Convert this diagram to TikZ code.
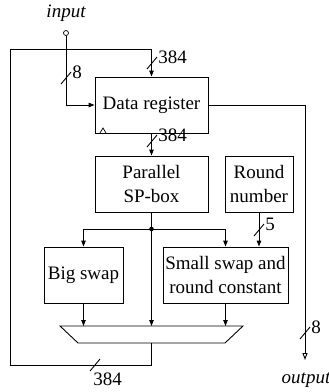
\documentclass[tikz,border=0pt]{standalone}
\usepackage{fontspec}
\setmainfont{Liberation Serif}
\newfontfamily\timesfont{Liberation Serif}
\usetikzlibrary{arrows.meta,calc}

% bus width mark: short slash across a line, with its width beside it
\def\busmark(#1)[#2]#3{%
  \draw ($(#1)+(-5,6)$) -- ($(#1)+(5,-6)$) node[#2, inner sep=1pt] {#3};}

\begin{document}
\begin{tikzpicture}[
  x=1pt, y=-1pt, line width=0.9pt,
  font=\timesfont\fontsize{19}{23.5}\selectfont,
  khoi/.style={
    draw, align=center, inner sep=2pt, minimum height=56pt
  },
  muiten/.style={-{Triangle[length=6pt,width=4.5pt]}},
  muitenrong/.style={-{Triangle[open,length=7pt,width=5pt]}}
]
\useasboundingbox (0,0) rectangle (329,392);

% ── Cac khoi chinh ──
\node[khoi, minimum width=113pt] (dreg)  at (151.5,105) {Data register};
\node[khoi, minimum width=113pt] (sp)    at (151.5,184) {Parallel\\SP-box};
\node[khoi, minimum width=68pt]  (round) at (259,184)   {Round\\number};
\node[khoi, minimum width=79pt]  (big)   at (83.5,275)  {Big swap};
\node[khoi, minimum width=125pt] (small) at (225.5,275) {Small swap and\\round constant};

% ── Bo chon (mux) hinh thang ──
\draw (60,326) -- (243,326) -- (225,343) -- (78,343) -- cycle;
\coordinate (muxtop) at (151.5,326);
\coordinate (muxbot) at (151.5,343);

% ── Vao / ra ──
\node (inlabel)  at (66,13)  {\itshape input};
\node[circle, draw, line width=0.7pt, inner sep=0pt, minimum size=5pt] (inpin) at (66,33) {};
\node (outlabel) at (306,380) {\itshape output};
\coordinate (outpin) at (305,360);
\coordinate (loopTL) at (10,49);
\coordinate (split)  at (151.5,229);

% ── Duong noi ──
\draw[muiten] (inpin) |- (dreg.west);
\draw[muiten] (muxbot) -- ++(0,22) -| (loopTL) -| (dreg.north);
\draw[muitenrong] (dreg.east) -| (outpin);
\draw[muiten] (dreg.south) -- (sp.north);
\draw[muiten] (sp.south) -- (muxtop);
\draw[muiten] (split) -| (big.north);
\draw[muiten] (split) -| (small.north);
\fill (split) circle (2.3pt);
\draw[muiten] (round.south) -- (round.south |- small.north);
\draw[muiten] (big.south) -- (big.south |- muxtop);
\draw[muiten] (small.south) -- (small.south |- muxtop);

% clock mark on the register
\draw[line width=0.7pt] (100,133) -- (103,128) -- (106,133);

% ── Do rong bus ──
\busmark(66,78)[right]{8}
\busmark(152,63)[right]{384}
\busmark(152,141)[right]{384}
\busmark(259,230)[right]{5}
\busmark(305,333)[right]{8}
\draw (90,371) -- (100,359) node[pos=0, below right, inner sep=1pt, xshift=2pt] {384};

\end{tikzpicture}
\end{document}
